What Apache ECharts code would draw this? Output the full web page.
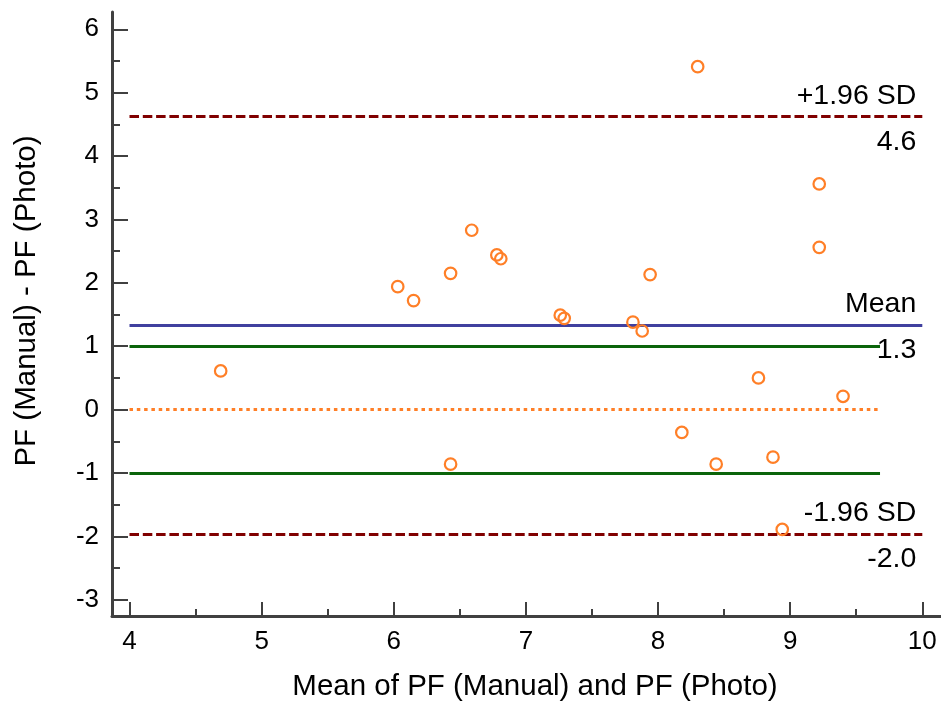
<!DOCTYPE html>
<html><head><meta charset="utf-8">
<script src="https://cdn.jsdelivr.net/npm/echarts@6/dist/echarts.min.js"></script>
<style>html,body{margin:0;padding:0;background:#fff}#c{width:941px;height:701px}</style>
</head><body><div id="c"></div>
<script>
// ---- data ----
const meanX = [4.69, 6.03, 6.15, 6.43, 6.43, 6.59, 6.78, 6.81, 7.26, 7.29, 7.81, 7.88, 7.94, 8.18, 8.30, 8.44, 8.76, 8.87, 8.94, 9.22, 9.22, 9.40];
const diffY = [0.61, 1.94, 1.72, 2.15, -0.86, 2.83, 2.44, 2.38, 1.49, 1.44, 1.38, 1.24, 2.13, -0.36, 5.41, -0.86, 0.50, -0.75, -1.89, 3.56, 2.56, 0.21];
const xTicks = [4, 5, 6, 7, 8, 9, 10];
const xMinorTicks = [4.5, 5.5, 6.5, 7.5, 8.5, 9.5];
const yTicks = [-3, -2, -1, 0, 1, 2, 3, 4, 5, 6];
const yMinorTicks = [-2.5, -1.5, -0.5, 0.5, 1.5, 2.5, 3.5, 4.5, 5.5];
const limitNames = ['+1.96 SD', 'Mean', '-1.96 SD'];
const limitValues = [4.63, 1.335, -1.96];
const limitLabels = ['4.6', '1.3', '-2.0'];
const agreementBounds = [-1, 1];
const zeroValue = 0;
const limitXRange = [4, 10];
const shortXRange = [4, 9.68];

const FONT = '"Liberation Sans", Arial, sans-serif';
const axisColor = '#404040';
const xMin = 3.8675, xMax = 10.1415, yMin = -3.256, yMax = 6.273;
const gridRect = { left: 112, right: 0, top: 12, bottom: 85, outerBoundsMode: 'none', containLabel: false };

const limitColors = ['#800000', '#40409f', '#800000'];
const limitTypes = [[9.5, 3.8], 'solid', [9.5, 3.8]];

const markData = [];
limitValues.forEach((v, i) => {
  const ls = { color: limitColors[i], width: 3, type: limitTypes[i] };
  markData.push([
    { coord: [limitXRange[0], v], lineStyle: ls,
      label: { show: true, position: 'insideEndTop', formatter: limitNames[i], distance: [6, 6],
               color: '#000', fontSize: 28.5, fontFamily: FONT } },
    { coord: [limitXRange[1], v] }
  ]);
  markData.push([
    { coord: [limitXRange[0], v], lineStyle: { color: 'rgba(0,0,0,0)', width: 1 },
      label: { show: true, position: 'insideEndBottom', formatter: limitLabels[i], distance: [6, 11],
               color: '#000', fontSize: 28.5, fontFamily: FONT } },
    { coord: [limitXRange[1], v] }
  ]);
});
agreementBounds.forEach(v => {
  markData.push([
    { coord: [shortXRange[0], v], lineStyle: { color: '#0a640a', width: 3, type: 'solid' }, label: { show: false } },
    { coord: [shortXRange[1], v] }
  ]);
});
markData.push([
  { coord: [shortXRange[0], zeroValue], lineStyle: { color: '#ff7f27', width: 3, type: [3.5, 3.8] }, label: { show: false } },
  { coord: [shortXRange[1], zeroValue] }
]);

const chart = echarts.init(document.getElementById('c'), null, { renderer: 'canvas' });
chart.setOption({
  animation: false,
  backgroundColor: '#fff',
  grid: [Object.assign({}, gridRect), Object.assign({}, gridRect)],
  xAxis: [
    {
      type: 'value', gridIndex: 0, min: xMin, max: xMax,
      splitLine: { show: false },
      axisLine: { show: true, onZero: false, lineStyle: { color: axisColor, width: 3 } },
      axisTick: { show: true, inside: true, length: 14, customValues: xTicks, lineStyle: { color: axisColor, width: 2 } },
      axisLabel: { show: true, customValues: xTicks, margin: 13, fontSize: 26, color: '#000', fontFamily: FONT },
      name: 'Mean of PF (Manual) and PF (Photo)', nameLocation: 'middle', nameGap: 56,
      nameTextStyle: { fontSize: 29.5, color: '#000', fontFamily: FONT, padding: [0, 0, 0, 17] }
    },
    {
      type: 'value', gridIndex: 1, min: xMin, max: xMax,
      splitLine: { show: false }, axisLine: { show: false, onZero: false }, axisLabel: { show: false },
      axisTick: { show: true, inside: true, length: 7, customValues: xMinorTicks, lineStyle: { color: axisColor, width: 2 } }
    }
  ],
  yAxis: [
    {
      type: 'value', gridIndex: 0, min: yMin, max: yMax,
      splitLine: { show: false },
      axisLine: { show: true, onZero: false, lineStyle: { color: axisColor, width: 3 } },
      axisTick: { show: true, inside: true, length: 16, customValues: yTicks, lineStyle: { color: axisColor, width: 2 } },
      axisLabel: { show: true, customValues: yTicks, margin: 13, fontSize: 26, color: '#000', fontFamily: FONT },
      name: 'PF (Manual) - PF (Photo)', nameLocation: 'middle', nameGap: 70,
      nameTextStyle: { fontSize: 29.5, color: '#000', fontFamily: FONT, padding: [0, 0, 0, 26] }
    },
    {
      type: 'value', gridIndex: 1, min: yMin, max: yMax,
      splitLine: { show: false }, axisLine: { show: false, onZero: false }, axisLabel: { show: false },
      axisTick: { show: true, inside: true, length: 8, customValues: yMinorTicks, lineStyle: { color: axisColor, width: 2 } }
    }
  ],
  series: [
    {
      type: 'scatter', xAxisIndex: 0, yAxisIndex: 0,
      data: meanX.map((x, i) => [x, diffY[i]]),
      symbol: 'circle', symbolSize: 11.5,
      itemStyle: { color: 'rgba(255,255,255,0)', borderColor: '#ff7f27', borderWidth: 2.2, opacity: 1 },
      z: 5,
      markLine: { silent: true, symbol: ['none', 'none'], animation: false, data: markData }
    }
  ]
});
</script></body></html>
